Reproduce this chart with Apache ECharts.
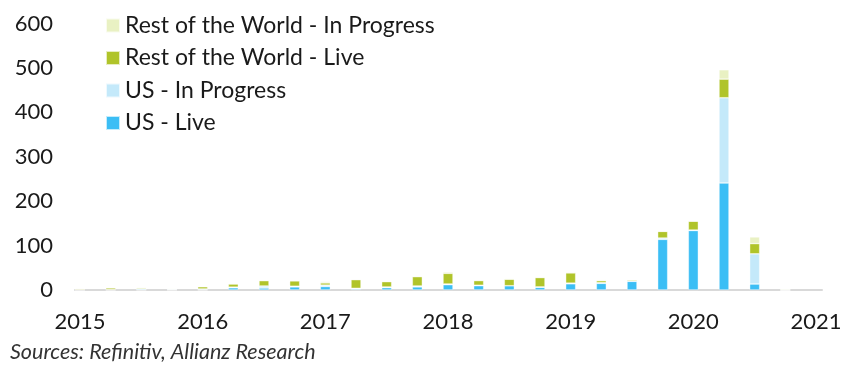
<!DOCTYPE html>
<html>
<head>
<meta charset="utf-8">
<script src="https://cdn.jsdelivr.net/npm/echarts@6/dist/echarts.min.js"></script>
<style>html,body{margin:0;padding:0;background:#fff}#c{width:851px;height:365px}</style>
</head>
<body>
<div id="c"></div>
<script>
// Quarterly categories; label every 4th (year start)
const categories = ['2015','2015Q2','2015Q3','2015Q4','2016','2016Q2','2016Q3','2016Q4',
  '2017','2017Q2','2017Q3','2017Q4','2018','2018Q2','2018Q3','2018Q4',
  '2019','2019Q2','2019Q3','2019Q4','2020','2020Q2','2020Q3','2020Q4','2021'];
const yTicks = [0,100,200,300,400,500,600];

const usLive      = [0,0,0,0,0,5,4.5,7,8,2.3,5.3,7,12,9.7,9.7,6,14,15,19.5,114,134,241,13.5,0];
const usProgress  = [1,1,3,2,2.3,1.5,4.5,1.5,3,1.5,1.5,2,1.5,1,0,1,1.5,1.5,1,3,1,192,68,0];
const rowLive     = [2,4,2.3,0,5,7,12,12,5,19.5,12,21,24,10.5,14.5,21,23,4.5,2.5,15,20,42,23,0];
const rowProgress = [0,0,0,1.5,1.5,1.5,2,1.5,3,1,1.5,2,3,1.5,1.5,1.5,2,2.3,0.5,0,0,21,15,2];

const names = ['US - Live','US - In Progress','Rest of the World - Live','Rest of the World - In Progress'];
const colors = ['#3bbef5','#c4e9fa','#b0c42a','#e9f1c3'];
const seriesData = [usLive, usProgress, rowLive, rowProgress];

const chart = echarts.init(document.getElementById('c'), null, {renderer:'canvas'});
const FONT = 'Lato';
const TXT = '#1a1a1a';
chart.setOption({
  animation:false,
  grid:[
    {left:80, right:35, top:23.6, bottom:75, containLabel:false},
    {left:75, right:29, top:23.6, bottom:75, containLabel:false}
  ],
  legend:{
    orient:'vertical', left:100, top:9,
    data:[names[3],names[2],names[1],names[0]],
    icon:'rect', itemWidth:14, itemHeight:14, itemGap:9.5,
    textStyle:{fontFamily:FONT, fontSize:23, lineHeight:22, color:TXT, padding:[0,0,0,0]}
  },
  xAxis:[{
    type:'category', data:categories, boundaryGap:false, gridIndex:0,
    splitLine:{show:false},
    axisLine:{show:false},
    axisTick:{show:false},
    axisLabel:{
      interval:3,
      formatter: v => v.length === 4 ? v : '',
      fontFamily:FONT, fontSize:22, color:TXT, margin:21
    }
  },{
    type:'value', gridIndex:1, min:0, max:1,
    splitLine:{show:false}, axisTick:{show:false}, axisLabel:{show:false},
    axisLine:{show:true, lineStyle:{color:'#d9d9d9', width:2}}
  }],
  yAxis:[{
    type:'value', min:0, max:600, interval:100, gridIndex:0,
    splitLine:{show:false}, axisLine:{show:false}, axisTick:{show:false},
    axisLabel:{fontFamily:FONT, fontSize:22, color:TXT, margin:27}
  },{
    type:'value', gridIndex:1, min:0, max:1, show:false
  }],
  series: seriesData.map((d,i)=>({
    name:names[i], type:'bar', stack:'all', barWidth:10, clip:false,
    xAxisIndex:0, yAxisIndex:0,
    itemStyle:{color:colors[i], borderColor:'rgba(255,255,255,0.7)', borderWidth:0.6},
    data: d
  })),
  graphic:[{
    type:'text', left:10, top:341,
    style:{text:'Sources: Refinitiv, Allianz Research', fontFamily:FONT, fontStyle:'italic', fontSize:21.5, fill:'#333'}
  }]
});
</script>
</body>
</html>
